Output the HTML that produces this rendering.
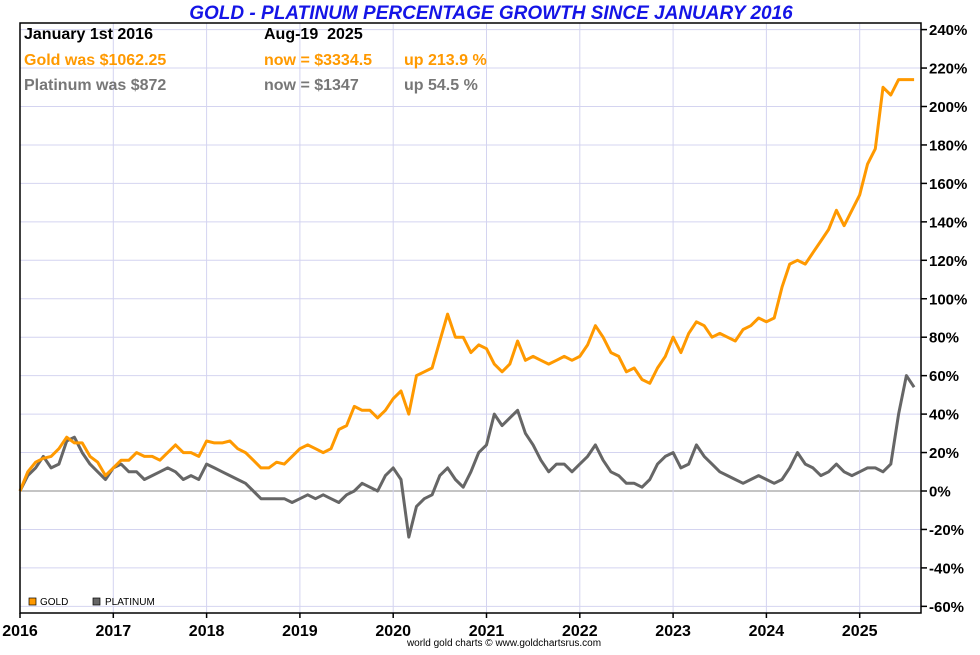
<!DOCTYPE html>
<html><head><meta charset="utf-8"><style>
body{margin:0;background:#fff;}
svg text{font-family:"Liberation Sans",Arial,sans-serif;}
</style></head><body>
<svg width="980" height="650" viewBox="0 0 980 650" xmlns="http://www.w3.org/2000/svg" id="chart">
<text x="491" y="19" text-anchor="middle" font-size="19" font-weight="bold" font-style="italic" fill="#1414e6">GOLD - PLATINUM PERCENTAGE GROWTH SINCE JANUARY 2016</text>
<g id="grid"></g>
<g id="series"></g>
<rect x="20" y="23" width="901" height="590" fill="none" stroke="#000" stroke-width="1.5"/>
<g id="axes"></g>
<g font-size="16" font-weight="bold">
<text x="24" y="39" fill="#000">January 1st 2016</text>
<text x="264" y="39" fill="#000" style="white-space:pre" xml:space="preserve">Aug-19  2025</text>
<text x="24" y="65" fill="#ff9900">Gold was $1062.25</text>
<text x="264" y="65" fill="#ff9900">now = $3334.5</text>
<text x="404" y="65" fill="#ff9900">up 213.9 %</text>
<text x="24" y="90" fill="#777">Platinum was $872</text>
<text x="264" y="90" fill="#777">now = $1347</text>
<text x="404" y="90" fill="#777">up 54.5 %</text>
</g>
<g font-size="10">
<rect x="29" y="598" width="7" height="7" fill="#ff9900" stroke="#000" stroke-width="0.7"/>
<text x="40" y="605">GOLD</text>
<rect x="93" y="598" width="7" height="7" fill="#666" stroke="#000" stroke-width="0.7"/>
<text x="105" y="605">PLATINUM</text>
</g>
<text x="504" y="646" text-anchor="middle" font-size="10" fill="#000">world gold charts © www.goldchartsrus.com</text>
</svg>
<script>
const years=[2016,2017,2018,2019,2020,2021,2022,2023,2024,2025];
const yTicks=[240,220,200,180,160,140,120,100,80,60,40,20,0,-20,-40,-60];
const gold=[0,10,15,17,18,22,28,25,25,18,15,8,
12,16,16,20,18,18,16,20,24,20,20,18,
26,25,25,26,22,20,16,12,12,15,14,18,
22,24,22,20,22,32,34,44,42,42,38,42,
48,52,40,60,62,64,78,92,80,80,72,76,
74,66,62,66,78,68,70,68,66,68,70,68,
70,76,86,80,72,70,62,64,58,56,64,70,
80,72,82,88,86,80,82,80,78,84,86,90,
88,90,106,118,120,118,124,130,136,146,138,146,
154,170,178,210,206,214,214,214];
const platinum=[0,8,12,18,12,14,26,28,20,14,10,6,
12,14,10,10,6,8,10,12,10,6,8,6,
14,12,10,8,6,4,0,-4,-4,-4,-4,-6,
-4,-2,-4,-2,-4,-6,-2,0,4,2,0,8,
12,6,-24,-8,-4,-2,8,12,6,2,10,20,
24,40,34,38,42,30,24,16,10,14,14,10,
14,18,24,16,10,8,4,4,2,6,14,18,
20,12,14,24,18,14,10,8,6,4,6,8,
6,4,6,12,20,14,12,8,10,14,10,8,
10,12,12,10,14,40,60,54];
const NS='http://www.w3.org/2000/svg';
const xOf=t=>20+(t-2016)*93.3;
const yOf=v=>491-v/20*38.45;
const grid=document.getElementById('grid'),axes=document.getElementById('axes'),series=document.getElementById('series');
function mk(tag,attrs,parent){const e=document.createElementNS(NS,tag);for(const k in attrs)e.setAttribute(k,attrs[k]);parent.appendChild(e);return e;}
yTicks.forEach(v=>{
 const y=yOf(v);
 const l=mk('line',{x1:20,x2:921,y1:y,y2:y,stroke:v===0?'#888':'#d4d4f0','stroke-width':1},grid);
 
 
 const tk=mk('line',{x1:921,x2:927,y1:y,y2:y,stroke:'#000','stroke-width':1.5},axes);
 
 
 const t=mk('text',{x:929,y:y+5.5,'font-size':15,'font-weight':'bold'},axes);
 t.textContent=v+'%';
 
 
});
years.forEach(yr=>{
 const x=xOf(yr);
 if(yr>2016){const l=mk('line',{x1:x,x2:x,y1:23,y2:613,stroke:'#d4d4f0','stroke-width':1},grid);
 
 }
 const tk=mk('line',{x1:x,x2:x,y1:613,y2:618,stroke:'#000','stroke-width':1.5},axes);
 
 
 const t=mk('text',{x:x,y:636,'font-size':16,'font-weight':'bold','text-anchor':'middle'},axes);
 t.textContent=yr;
 
 
});
function line(data,color,name){
 const pts=data.map((v,i)=>xOf(2016+i/12).toFixed(1)+','+yOf(v).toFixed(1)).join(' ');
 const p=mk('polyline',{points:pts,fill:'none',stroke:color,'stroke-width':3,'stroke-linejoin':'round'},series);
 
 
}
line(platinum,'#666','platinum-line');
line(gold,'#ff9900','gold-line');
</script>
</body></html>
